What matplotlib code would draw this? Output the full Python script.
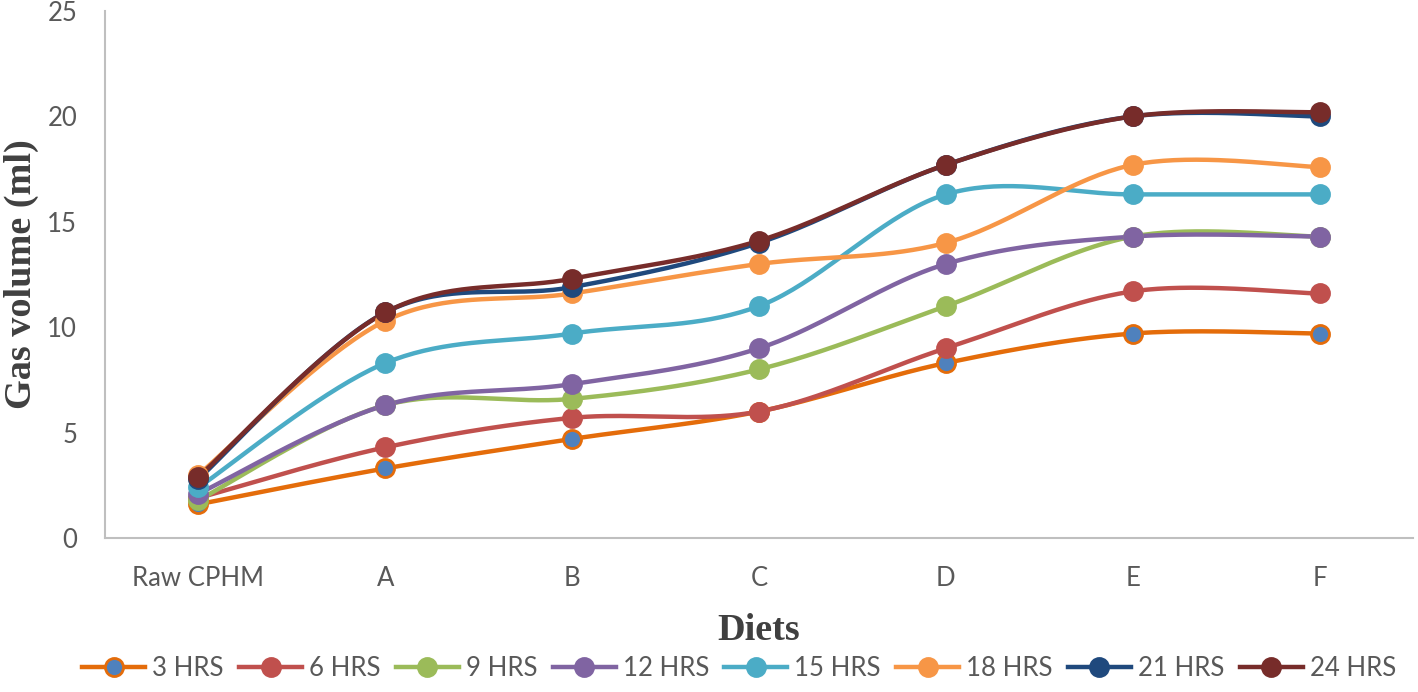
import numpy as np
import matplotlib
matplotlib.use("Agg")
import matplotlib.pyplot as plt
from matplotlib.lines import Line2D

categories = ["Raw CPHM", "A", "B", "C", "D", "E", "F"]
series_names = ["3 HRS", "6 HRS", "9 HRS", "12 HRS", "15 HRS", "18 HRS", "21 HRS", "24 HRS"]

hrs3 = [1.6, 3.3, 4.7, 6.0, 8.3, 9.7, 9.7]
hrs6 = [1.9, 4.3, 5.7, 6.0, 9.0, 11.7, 11.6]
hrs9 = [1.8, 6.3, 6.6, 8.0, 11.0, 14.3, 14.3]
hrs12 = [2.1, 6.3, 7.3, 9.0, 13.0, 14.3, 14.3]
hrs15 = [2.4, 8.3, 9.7, 11.0, 16.3, 16.3, 16.3]
hrs18 = [3.0, 10.3, 11.6, 13.0, 14.0, 17.7, 17.6]
hrs21 = [2.8, 10.7, 11.9, 14.0, 17.7, 20.0, 20.0]
hrs24 = [2.9, 10.7, 12.3, 14.1, 17.7, 20.0, 20.2]

values = [hrs3, hrs6, hrs9, hrs12, hrs15, hrs18, hrs21, hrs24]
line_colors = ["#E46C0A", "#C0504D", "#9BBB59", "#8064A2", "#4BACC6", "#F79646", "#1F497D", "#772C2A"]
face_colors = ["#4F81BD", "#C0504D", "#9BBB59", "#8064A2", "#4BACC6", "#F79646", "#1F497D", "#772C2A"]


def smooth(x, y, n=40):
    x = np.asarray(x, float)
    y = np.asarray(y, float)
    xs, ys = [], []
    m = len(x)
    for i in range(m - 1):
        p0 = np.array([x[max(i - 1, 0)], y[max(i - 1, 0)]])
        p1 = np.array([x[i], y[i]])
        p2 = np.array([x[i + 1], y[i + 1]])
        p3 = np.array([x[min(i + 2, m - 1)], y[min(i + 2, m - 1)]])
        c1 = p1 + (p2 - p0) / 6.0
        c2 = p2 - (p3 - p1) / 6.0
        t = np.linspace(0, 1, n)[:, None]
        b = ((1 - t) ** 3) * p1 + 3 * ((1 - t) ** 2) * t * c1 + 3 * (1 - t) * t ** 2 * c2 + t ** 3 * p2
        xs.append(b[:, 0])
        ys.append(b[:, 1])
    return np.concatenate(xs), np.concatenate(ys)


fig = plt.figure(figsize=(14.18, 6.92), dpi=100)
ax = fig.add_axes([105 / 1418, 1 - 538 / 692, (1413 - 105) / 1418, (538 - 11) / 692])

xpos = np.arange(len(categories))
for name, vals, lc, fc in zip(series_names, values, line_colors, face_colors):
    sx, sy = smooth(xpos, vals)
    ax.plot(sx, sy, color=lc, lw=3.2, solid_capstyle="round", zorder=2)
    ax.plot(xpos, vals, linestyle="none", marker="o", markersize=13,
            markerfacecolor=fc, markeredgecolor=lc, markeredgewidth=2.0, zorder=3)

ax.set_xlim(-0.5, len(categories) - 0.5)
ax.set_ylim(0, 25)
ax.set_yticks([0, 5, 10, 15, 20, 25])
ax.set_xticks(xpos)
ax.set_xticklabels(categories)
tick_font = "Lato"
for lab in ax.get_xticklabels() + ax.get_yticklabels():
    lab.set_fontfamily(tick_font)
    lab.set_fontsize(18.5)
    lab.set_color("#595959")
ax.tick_params(axis="both", length=0)
ax.tick_params(axis="y", pad=20)
ax.tick_params(axis="x", pad=20)

for s in ["top", "right"]:
    ax.spines[s].set_visible(False)
for s in ["left", "bottom"]:
    ax.spines[s].set_color("#BFBFBF")
    ax.spines[s].set_linewidth(1.5)

ax.set_ylabel("Gas volume (ml)", family="Liberation Serif", fontweight="bold",
              fontsize=27.5, color="#404040")
ax.yaxis.set_label_coords((39 - 105) / 1308, 0.5)
ax.set_xlabel("Diets", family="Liberation Serif", fontweight="bold",
              fontsize=27.5, color="#404040")
ax.xaxis.set_label_coords(0.5, (538 - 613) / 527)

handles = [Line2D([0], [0], color=lc, lw=3.2, marker="o", markersize=13,
                  markerfacecolor=fc, markeredgecolor=lc, markeredgewidth=2)
           for lc, fc in zip(line_colors, face_colors)]
leg = fig.legend(handles, series_names, loc="center", bbox_to_anchor=(0.5 + 30 / 1418, 1 - 668 / 692),
                 ncol=8, frameon=False, handlelength=2.45, columnspacing=0.6, handletextpad=0.27,
                 prop={"family": tick_font, "size": 18.5})
for t in leg.get_texts():
    t.set_color("#595959")

fig.savefig("out.png", dpi=100)
